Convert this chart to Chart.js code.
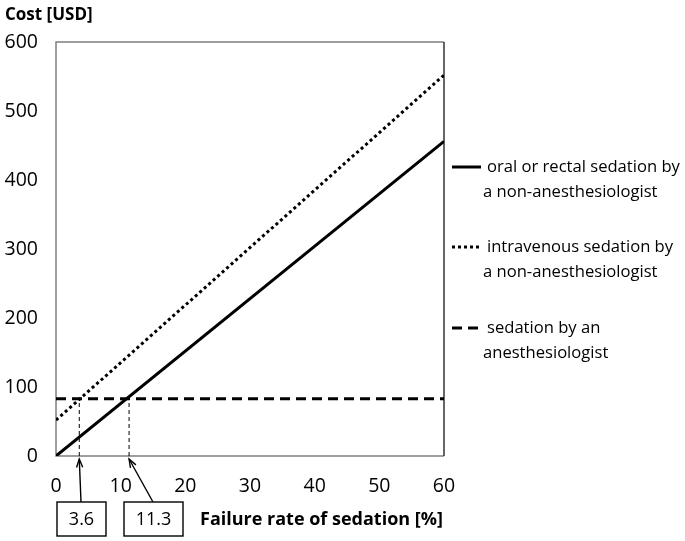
<!DOCTYPE html>
<html>
<head>
<meta charset="utf-8">
<script src="https://cdn.jsdelivr.net/npm/chart.js@4/dist/chart.umd.min.js"></script>
<style>
  html, body { margin: 0; padding: 0; background: #fff; }
  #wrap { width: 685px; height: 541px; position: relative; }
</style>
</head>
<body>
<div id="wrap"><canvas id="chart"></canvas></div>
<script>
// failure rate [%] at the ends of each line
const failureRates = [0, 60];
// cost [USD] at those failure rates
const oralCost = [0, 456];
const ivCost = [52, 552];
const anesthCost = [83, 83];
// break-even failure rates and the cost where they meet
const breakEvenRates = [3.6, 11.3];
const breakEvenCost = 83;
const xTicks = [0, 10, 20, 30, 40, 50, 60];
const yTicks = [0, 100, 200, 300, 400, 500, 600];

const legendLabels = [
  ['oral or rectal sedation by', 'a non-anesthesiologist'],
  ['intravenous sedation by', 'a non-anesthesiologist'],
  ['sedation by an', 'anesthesiologist'],
];

const FONT = '"Open Sans", sans-serif';

const pts = ys => failureRates.map((x, i) => ({ x, y: ys[i] }));

const datasets = [
  { data: pts(oralCost), borderColor: '#000', borderWidth: 3, borderDash: [] },
  { data: pts(ivCost), borderColor: '#000', borderWidth: 3, borderDash: [3, 3] },
  { data: pts(anesthCost), borderColor: '#000', borderWidth: 3, borderDash: [10, 6] },
];
breakEvenRates.forEach(r => {
  datasets.push({ data: [{ x: r, y: 0 }, { x: r, y: breakEvenCost }], borderColor: '#000', borderWidth: 1, borderDash: [4, 3] });
});
datasets.forEach(d => { d.pointRadius = 0; d.fill = false; d.tension = 0; });

function arrow(ctx, x1, y1, x2, y2) {
  ctx.beginPath(); ctx.moveTo(x1, y1); ctx.lineTo(x2, y2); ctx.stroke();
  const a = Math.atan2(y2 - y1, x2 - x1), L = 9;
  ctx.beginPath();
  ctx.moveTo(x2 - L * Math.cos(a - 0.35), y2 - L * Math.sin(a - 0.35));
  ctx.lineTo(x2, y2);
  ctx.lineTo(x2 - L * Math.cos(a + 0.35), y2 - L * Math.sin(a + 0.35));
  ctx.stroke();
}

const extras = {
  id: 'extras',
  beforeDatasetsDraw(chart) {
    const { ctx, chartArea: a } = chart;
    ctx.save();
    ctx.lineWidth = 1.5;
    ctx.strokeStyle = '#7f7f7f';
    ctx.beginPath();
    ctx.moveTo(a.right, a.top); ctx.lineTo(a.left, a.top); ctx.lineTo(a.left, a.bottom); ctx.lineTo(a.right, a.bottom);
    ctx.stroke();
    ctx.strokeStyle = '#333';
    ctx.beginPath(); ctx.moveTo(a.right, a.top); ctx.lineTo(a.right, a.bottom); ctx.stroke();
    ctx.restore();
  },
  afterDraw(chart) {
    const { ctx, chartArea: a, scales } = chart;
    ctx.save();
    ctx.fillStyle = '#000';
    ctx.textBaseline = 'middle';
    // axis titles
    ctx.font = 'bold 17px ' + FONT;
    ctx.textAlign = 'left';
    ctx.fillText('Cost [USD]', 5, 15);
    ctx.font = 'bold 18px ' + FONT;
    ctx.fillText('Failure rate of sedation [%]', 200, 520);

    // break-even boxes with arrows
    ctx.font = '18px ' + FONT;
    ctx.textAlign = 'center';
    ctx.strokeStyle = '#000';
    ctx.lineWidth = 1.4;
    const boxes = [{ l: 57, w: 49, ax: 81 }, { l: 124, w: 59, ax: 153 }];
    breakEvenRates.forEach((r, i) => {
      const b = boxes[i];
      ctx.strokeRect(b.l, 502, b.w, 34);
      ctx.fillText(String(r), b.l + b.w / 2, 520);
      arrow(ctx, b.ax, 502, scales.x.getPixelForValue(r), a.bottom + 3);
    });

    // legend
    const rows = [167, 247, 328];
    ctx.textAlign = 'left';
    ctx.font = '16.6px ' + FONT;
    legendLabels.forEach((lines, i) => {
      const y = rows[i];
      ctx.lineWidth = 3;
      ctx.setLineDash(datasets[i].borderDash);
      ctx.beginPath(); ctx.moveTo(452, y); ctx.lineTo(481, y); ctx.stroke();
      ctx.setLineDash([]);
      ctx.fillText(lines[0], 487, y);
      ctx.fillText(lines[1], 483, y + 25);
    });
    ctx.restore();
  }
};

new Chart(document.getElementById('chart'), {
  type: 'line',
  data: { datasets },
  options: {
    responsive: true,
    maintainAspectRatio: false,
    animation: false,
    layout: { padding: { left: 0, top: 42, right: 241, bottom: 0 } },
    plugins: { legend: { display: false }, tooltip: { enabled: false } },
    scales: {
      x: {
        type: 'linear', min: 0, max: 60,
        afterBuildTicks: s => { s.ticks = xTicks.map(v => ({ value: v })); },
        afterFit: s => { s.height = 85; },
        grid: { display: false, drawTicks: false },
        border: { display: false },
        ticks: { color: '#000', padding: 19, font: { family: FONT, size: 19.5 } },
      },
      y: {
        type: 'linear', min: 0, max: 600,
        afterBuildTicks: s => { s.ticks = yTicks.map(v => ({ value: v })); },
        afterFit: s => { s.width = 56; },
        grid: { display: false, drawTicks: false },
        border: { display: false },
        ticks: { color: '#000', padding: 18, font: { family: FONT, size: 19.5 } },
      },
    },
  },
  plugins: [extras],
});
</script>
</body>
</html>
